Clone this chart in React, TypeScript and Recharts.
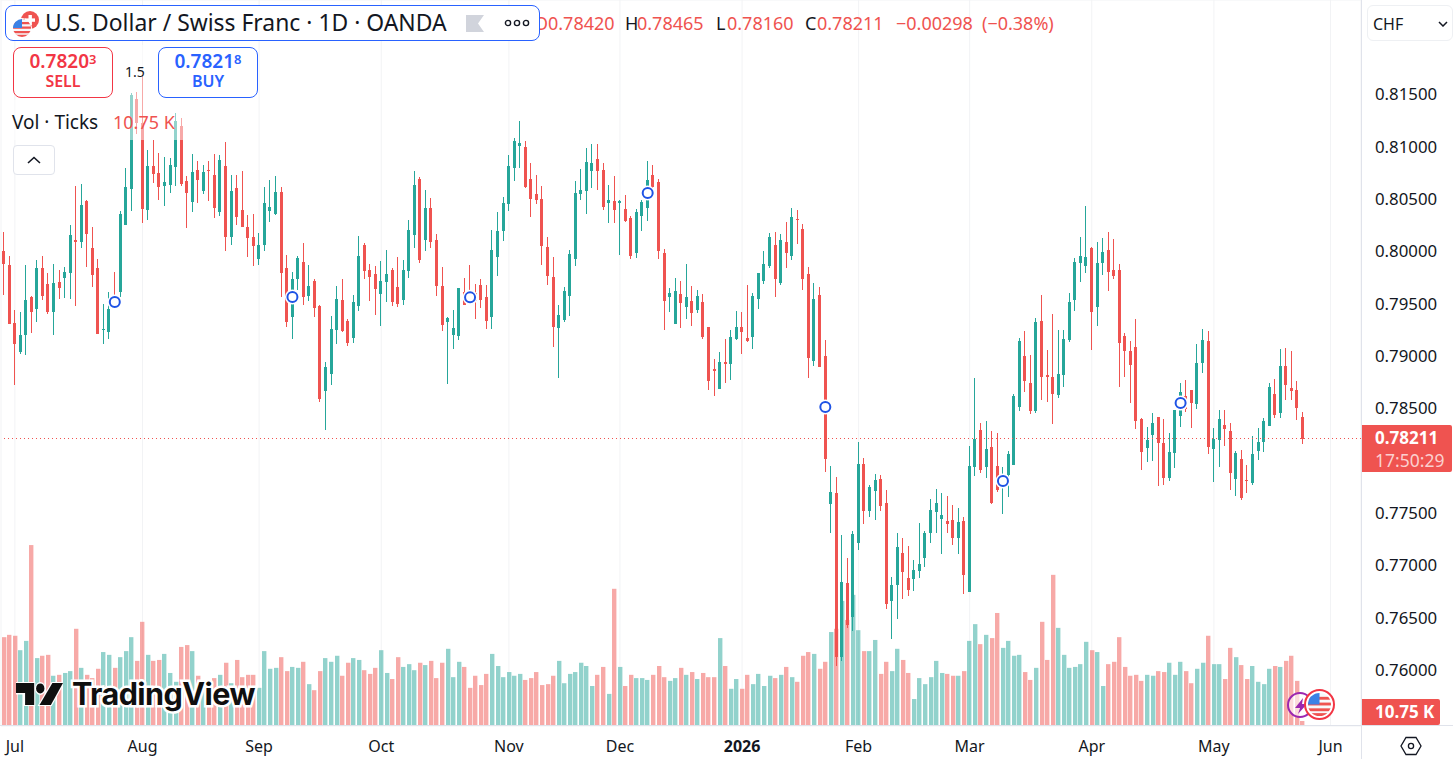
import {
  Bar,
  CartesianGrid,
  ComposedChart,
  ReferenceDot,
  ReferenceLine,
  XAxis,
  YAxis,
} from "recharts";

const UP = "#26a69a";
const DOWN = "#ef5350";
const TEXT = "#131722";
const FONT = "'Noto Sans', sans-serif";

// prices in 1/100000 CHF, one entry per daily candle
const opens = [
  80000,79869,79312,79034,79200,79563,79449,79840,79687,79420,
  79706,79745,79793,80108,80089,80480,80031,79840,79248,79229,
  79550,79611,80251,80595,81452,81223,80394,80815,80748,80624,
  80633,80805,81197,80672,80471,80777,80576,80777,80729,80375,
  80815,80136,80605,80394,80232,80136,79926,80060,80385,80356,
  80566,79840,79372,79735,79898,79573,79716,79477,78665,78827,
  79248,79535,79334,79172,79477,80060,79821,79783,79592,79707,
  79821,79659,79535,79812,80156,80691,80108,80414,80108,79668,
  79324,79200,79191,79614,79582,79598,79678,79563,79372,79945,
  80194,80452,80796,81006,80996,80691,80547,80500,80041,79754,
  79267,79343,79573,79926,80547,80576,80767,80882,80777,80461,
  80480,80461,80404,80318,79984,80337,80414,80729,80662,79988,
  79567,79309,79596,79472,79529,79443,79519,79281,78879,78688,
  78946,78927,79166,79281,79175,79185,79548,79720,79863,80064,
  79701,80093,79959,80312,80217,79787,78956,79586,79003,77589,
  77694,76130,76834,76510,77217,77971,77522,77714,77828,77599,
  76662,76815,77121,76882,76873,76949,77073,77312,77513,77446,
  77427,77436,77264,77427,76748,77943,78296,77943,78134,77952,
  77739,77866,77962,78516,79003,78745,78478,79338,78822,78803,
  78631,78822,79156,79539,79892,79863,80035,79472,79892,80016,
  79825,79825,79195,79051,79089,78401,78124,78249,78421,78172,
  77838,78077,78430,78615,78679,78545,78937,79147,78115,78201,
  78344,78287,77828,78019,77819,77790,78096,78182,78335,78640,
  78459,78908,78698,78679,78420,
];
const highs = [
  80181,79955,79439,79417,79869,79573,79917,79955,79793,79879,
  79821,79850,80251,80624,80643,80490,80232,79926,79496,79611,
  79802,80385,80796,81509,81525,81684,80968,81063,80939,80901,
  80891,81318,81273,80719,80929,80863,80824,80863,80929,80920,
  81044,80729,80729,80767,80347,80356,80175,80614,80681,80719,
  80614,79964,79802,79955,80079,79869,79735,79487,78942,79382,
  79668,79735,79353,79582,80146,80079,79879,79859,79907,80012,
  79840,79945,79917,80299,80767,80710,80586,80509,80165,79850,
  79372,79439,79649,79745,79869,79687,79735,79678,80203,80375,
  80519,80920,81082,81245,81054,80844,80729,80624,80137,79945,
  79487,79659,80012,80672,80786,80987,81025,81025,80844,80633,
  80719,80490,80538,80337,80404,80490,80863,80824,80691,80026,
  79653,79749,79720,79882,79672,79634,79596,79281,78975,79042,
  79166,79252,79433,79424,79682,79605,79797,80007,80179,80188,
  80169,80284,80418,80398,80265,79854,79701,79663,79156,77952,
  77847,77293,77073,77331,78182,78029,77771,77876,77866,77723,
  76892,77312,77264,77188,77054,77408,77331,77637,77733,77694,
  77666,77580,77551,77465,78143,78793,78363,78382,78287,78268,
  77943,78096,78640,79175,79242,79013,79367,79586,79061,79405,
  79252,79252,79605,79940,80140,80437,80045,80093,80131,80188,
  80121,79882,79223,79147,79357,78411,78325,78459,78421,78401,
  78268,78487,78745,78774,78679,79118,79261,79242,78315,78487,
  78487,78363,78096,78105,77962,78239,78315,78411,78745,78784,
  79070,79080,79051,78765,78465,
];
const lows = [
  79582,79305,78723,79018,79009,79216,79325,79534,79401,79200,
  79544,79553,79544,79477,80031,79850,79659,79210,79115,79162,
  79471,79566,80251,80385,81127,80270,80299,80652,80490,80433,
  80557,80617,80624,80222,80375,80461,80547,80480,80318,80337,
  80003,80060,80251,80232,79945,79859,79869,80003,80280,80347,
  79563,79277,79162,79630,79487,79525,79372,78560,78292,78723,
  79115,79229,79095,79124,79429,79735,79525,79391,79286,79515,
  79477,79468,79487,79745,80031,79888,80003,80031,79573,79238,
  78732,79066,79152,79487,79519,79353,79458,79257,79257,79764,
  80098,80385,80672,80796,80605,80328,80452,79869,79678,79085,
  78789,79324,79382,79859,80490,80356,80605,80586,80395,80270,
  80270,79965,80280,79926,79936,80194,80289,80605,79926,79252,
  79424,79309,79271,79357,79290,79414,79166,78679,78621,78688,
  78745,78774,79156,79023,79137,79070,79453,79691,79844,79567,
  79682,79844,79921,80074,79634,78793,78908,78898,77895,77312,
  76040,76090,76404,76376,77150,77398,77465,77436,77522,76586,
  76299,76490,76682,76710,76758,76882,76987,77217,77312,77112,
  77312,77198,77112,76729,76748,77857,77885,77838,77589,77707,
  77494,77656,77962,78478,78659,78449,78459,78583,78564,78354,
  78602,78707,79137,79433,79711,79797,79061,79290,79777,79624,
  79739,78707,78803,78554,78306,77914,77991,78000,77761,77771,
  77809,77933,78325,78468,78315,78497,78841,78067,77800,77943,
  78143,77723,77666,77628,77694,77771,78010,78086,78335,78411,
  78411,78583,78583,78392,78160,
];
const closes = [
  79879,79305,79115,79200,79534,79420,79840,79573,79420,79697,
  79649,79802,80156,80089,80442,80165,79773,79210,79257,79449,
  79471,80356,80614,81493,81223,80404,80815,80738,80614,80662,
  80824,81245,80643,80557,80757,80681,80757,80767,80414,80872,
  80136,80576,80328,80232,80127,80050,80060,80461,80423,80566,
  79793,79325,79735,79936,79563,79668,79458,78589,78894,79257,
  79544,79238,79124,79515,79955,79812,79754,79640,79716,79783,
  79515,79496,79821,80203,80633,79917,80414,80089,79668,79296,
  79363,79267,79649,79493,79528,79519,79535,79334,80012,80194,
  80461,80815,81054,81035,80614,80500,80490,80051,79764,79277,
  79391,79621,79974,80557,80586,80853,80844,80767,80423,80490,
  80395,80480,80289,79955,80375,80471,80681,80614,80003,79529,
  79605,79624,79510,79567,79414,79577,79185,78765,78860,78946,
  78927,79185,79281,79233,79147,79577,79797,79882,80140,79739,
  80112,79988,80332,80303,79739,78984,79548,78898,78019,77704,
  76130,76844,76433,77303,77971,77522,77752,77819,77570,76634,
  76815,77178,76940,76768,76959,77016,77312,77532,77599,77484,
  77398,77264,77417,76911,77952,78210,77914,78115,77599,77723,
  77866,78067,78621,79147,78765,78478,79328,78803,78803,78640,
  78831,79166,79519,79902,79959,79949,79424,79892,79997,79806,
  79768,79128,79051,78917,78382,78086,78201,78363,78172,77838,
  78086,78487,78659,78487,78554,78937,79156,78134,78210,78401,
  78306,77885,78077,77647,77809,78067,78182,78382,78707,78440,
  78908,78726,78669,78507,78211,
];
// tick volume in thousands
const volumes = [
  191,196,194,163,183,389,146,151,153,108,
  110,114,118,209,125,110,103,123,159,153,
  125,148,161,191,140,224,153,140,142,155,
  114,95,170,174,161,108,97,93,103,110,
  136,92,142,105,110,110,82,161,123,125,
  148,118,127,125,138,90,77,118,146,138,
  151,108,136,146,142,120,112,125,163,114,
  101,148,127,133,120,136,131,140,103,136,
  166,105,138,127,82,108,88,112,155,129,
  105,116,108,112,99,103,116,88,90,108,
  140,92,112,116,136,129,86,110,127,69,
  295,127,86,110,103,103,99,110,129,105,
  97,103,125,110,116,101,114,105,105,189,
  129,80,101,80,110,90,112,86,108,103,
  110,127,105,95,151,159,155,123,138,202,
  209,269,228,282,206,161,161,185,112,138,
  118,166,142,114,58,103,90,105,140,114,
  112,108,108,118,183,219,176,196,189,243,
  168,183,151,153,116,99,125,224,142,325,
  211,153,125,127,133,181,163,159,86,133,
  138,191,127,108,110,97,110,108,118,116,
  136,110,138,118,92,123,136,194,133,133,
  101,168,148,131,101,129,95,90,123,129,
  127,140,151,97,10.75,
];

const slotCount = 245;
const priceTicks = [0.76, 0.765, 0.77, 0.775, 0.78, 0.785, 0.79, 0.795, 0.8, 0.805, 0.81, 0.815];
const tickSlots = [2, 25, 46, 68, 91, 111, 133, 154, 174, 196, 218, 239];
const tickLabels = ["Jul", "Aug", "Sep", "Oct", "Nov", "Dec", "2026", "Feb", "Mar", "Apr", "May", "Jun"];
const markerSlots = [20, 52, 84, 116, 148, 180, 212];
const markerPrices = [0.79516, 0.79564, 0.79561, 0.80558, 0.78513, 0.77806, 0.78551];
const lastPrice = 0.78211;

const rows = Array.from({ length: slotCount }, (_, i) =>
  i < opens.length
    ? {
        slot: i,
        open: opens[i] / 100000,
        high: highs[i] / 100000,
        low: lows[i] / 100000,
        close: closes[i] / 100000,
        range: [lows[i] / 100000, highs[i] / 100000],
        volume: volumes[i],
      }
    : { slot: i }
);

function Candle(props: any) {
  const { x, y, width, height, payload } = props;
  if (payload.open == null) return null;
  const top = Math.min(y, y + height);
  const h = Math.abs(height);
  const perPrice = h / (payload.high - payload.low);
  const cx = Math.floor(x + width / 2);
  const bodyTop = top + (payload.high - Math.max(payload.open, payload.close)) * perPrice;
  const bodyBottom = top + (payload.high - Math.min(payload.open, payload.close)) * perPrice;
  const color = payload.close < payload.open ? DOWN : UP;
  return (
    <g>
      <rect x={cx} y={Math.round(top)} width={1} height={Math.max(1, Math.round(h))} fill={color} />
      <rect
        x={cx - 1}
        y={Math.round(bodyTop)}
        width={3}
        height={Math.max(1, Math.round(bodyBottom - bodyTop))}
        fill={color}
      />
    </g>
  );
}

function VolumeBar(props: any) {
  const { x, y, width, height, payload } = props;
  if (payload.open == null) return null;
  const color = payload.close < payload.open ? DOWN : UP;
  return (
    <rect
      x={Math.floor(x + width / 2) - 2}
      y={y}
      width={4.4}
      height={height}
      fill={color}
      fillOpacity={0.5}
    />
  );
}

function DateTick(props: any) {
  const { x, y, payload } = props;
  const label = tickLabels[tickSlots.indexOf(Number(payload.value))];
  return (
    <text
      x={x}
      y={y + 18}
      textAnchor="middle"
      fontFamily={FONT}
      fontSize={16}
      fontWeight={label === "2026" ? 700 : 400}
      fill={TEXT}
    >
      {label}
    </text>
  );
}

function UsFlag({ size }: { size: number }) {
  return (
    <svg width={size} height={size} viewBox="0 0 24 24" style={{ display: "block" }}>
      <defs>
        <clipPath id={"fl" + size}>
          <circle cx="12" cy="12" r="12" />
        </clipPath>
      </defs>
      <g clipPath={"url(#fl" + size + ")"}>
        <rect width="24" height="24" fill="#f7f8fa" />
        <rect y="4" width="24" height="3" fill="#ef5350" />
        <rect y="10" width="24" height="3" fill="#ef5350" />
        <rect y="16" width="24" height="3" fill="#ef5350" />
        <rect y="21" width="24" height="3" fill="#ef5350" />
        <rect width="12" height="12" fill="#3b82e6" />
      </g>
    </svg>
  );
}

const abs = (left: number, top: number, extra: any = {}): any => ({
  position: "absolute",
  left,
  top,
  whiteSpace: "nowrap",
  ...extra,
});

function Quote({ left, top, value, small, label, color }: any) {
  return (
    <div
      style={abs(left, top, {
        width: 98,
        height: 49,
        border: `1px solid ${color}`,
        borderRadius: 8,
        background: "#fff",
        color,
        textAlign: "center",
        fontWeight: 600,
      })}
    >
      <div style={{ fontSize: 19, height: 20, lineHeight: "20px", marginTop: 3 }}>
        {value}
        <span style={{ fontSize: 13, lineHeight: 0, verticalAlign: 4 }}>{small}</span>
      </div>
      <div style={{ fontSize: 16, height: 20, lineHeight: "20px" }}>{label}</div>
    </div>
  );
}

function Overlay() {
  const red = "#ef5350";
  const ohlc: [number, string, string][] = [
    [534, "O", red],
    [548, "0.78420", red],
    [625, "H", TEXT],
    [637, "0.78465", red],
    [716, "L", TEXT],
    [727, "0.78160", red],
    [805, "C", TEXT],
    [817, "0.78211", red],
    [896, "−0.00298", red],
    [982, "(−0.38%)", red],
  ];
  return (
    <div style={abs(0, 0, { width: 1453, height: 759, fontFamily: FONT, color: TEXT })}>
      {/* legend veil over the candles */}
      <div style={abs(8, 100, { width: 178, height: 40, background: "rgba(255,255,255,0.5)" })} />
      <div style={abs(113, 45, { width: 45, height: 55, background: "rgba(255,255,255,0.5)" })} />

      {ohlc.map(([left, text, color]) => (
        <div key={left} style={abs(left, 10, { fontSize: 18, lineHeight: "26px", color })}>
          {text}
        </div>
      ))}

      <div
        style={abs(5, 5, {
          width: 533,
          height: 34,
          border: "1px solid #2962ff",
          borderRadius: 8,
          background: "#fff",
        })}
      />
      <svg width={36} height={32} viewBox="0 0 36 32" style={abs(11, 9)}>
        <circle cx="19" cy="11" r="9" fill="#ef5350" />
        <rect x="17.5" y="6" width="3.4" height="10" fill="#fff" />
        <rect x="14" y="9.4" width="10" height="3.4" fill="#fff" />
      </svg>
      <div style={abs(12, 18, { borderRadius: 10, border: "1px solid #fff" })}>
        <UsFlag size={18} />
      </div>
      <div style={abs(45, 6, { fontSize: 22.9, lineHeight: "34px" })}>
        U.S. Dollar / Swiss Franc · 1D · OANDA
      </div>
      <svg width={18} height={17} style={abs(466, 15)}>
        <path d="M0 0H18L12 8.5L18 17H0Z" fill="#d1d4dc" />
      </svg>
      <svg width={26} height={8} style={abs(504, 19)}>
        <circle cx="4" cy="4" r="2.6" fill="none" stroke={TEXT} strokeWidth="1.4" />
        <circle cx="13" cy="4" r="2.6" fill="none" stroke={TEXT} strokeWidth="1.4" />
        <circle cx="22" cy="4" r="2.6" fill="none" stroke={TEXT} strokeWidth="1.4" />
      </svg>

      <Quote left={13} top={47} value="0.7820" small="3" label="SELL" color="#f23645" />
      <Quote left={158} top={47} value="0.7821" small="8" label="BUY" color="#2962ff" />
      <div style={abs(125, 63, { fontSize: 14, lineHeight: "18px" })}>1.5</div>

      <div style={abs(12, 110, { fontSize: 19, lineHeight: "24px" })}>Vol · Ticks</div>
      <div style={abs(113, 110, { fontSize: 18, lineHeight: "24px", color: red })}>10.75 K</div>
      <div
        style={abs(13, 145, {
          width: 40,
          height: 28,
          border: "1px solid #e0e3eb",
          borderRadius: 4,
          background: "#fff",
        })}
      />
      <svg width={14} height={8} style={abs(27, 156)}>
        <path d="M1 7L7 1.5L13 7" fill="none" stroke={TEXT} strokeWidth="1.6" />
      </svg>

      {/* pane borders */}
      <div style={abs(1361, 0, { width: 1, height: 759, background: "#e0e3eb" })} />
      <div style={abs(0, 725, { width: 1453, height: 1, background: "#e0e3eb" })} />

      <div
        style={abs(1367, 5, {
          width: 86,
          height: 36,
          border: "1px solid #eef0f3",
          borderRadius: 6,
          fontSize: 16,
          lineHeight: "36px",
          textIndent: 5,
          boxSizing: "border-box",
        })}
      >
        CHF
      </div>
      <svg width={10} height={6} style={abs(1438, 21)}>
        <path d="M1 1L5 5L9 1" fill="none" stroke={TEXT} strokeWidth="1.5" />
      </svg>

      <div style={abs(1362, 425, { width: 90, height: 47, background: red, borderRadius: "0 2px 2px 0" })}>
        <div style={abs(13, 2, { fontSize: 17, lineHeight: "22px", color: "#fff", fontWeight: 700 })}>0.78211</div>
        <div style={abs(13, 24, { fontSize: 17.5, lineHeight: "22px", color: "#fbd0cf" })}>17:50:29</div>
      </div>
      <div style={abs(1362, 699, { width: 78, height: 26, background: red, borderRadius: "0 2px 2px 0" })}>
        <div style={abs(13, 2, { fontSize: 17, lineHeight: "22px", color: "#fff", fontWeight: 700 })}>10.75 K</div>
      </div>
      <svg width={22} height={20} viewBox="0 0 22 20" style={abs(1400, 736)}>
        <path d="M6 1.5H16L21 10L16 18.5H6L1 10Z" fill="none" stroke={TEXT} strokeWidth="1.3" />
        <circle cx="11" cy="10" r="2.6" fill="none" stroke={TEXT} strokeWidth="1.3" />
      </svg>

      {/* logo */}
      <svg width={47} height={24} viewBox="0 0 62 26" preserveAspectRatio="none" style={abs(16, 682)}>
        <g stroke="#fff" strokeWidth="3" paintOrder="stroke">
          <path d="M0 1H24V25H12V12H0Z" fill="#0f0f0f" />
          <circle cx="32" cy="7" r="5.5" fill="#0f0f0f" />
          <path d="M48 1H62L46 25H31Z" fill="#0f0f0f" />
        </g>
      </svg>
      <div
        style={abs(72, 676, {
          fontFamily: "Inter, sans-serif",
          fontSize: 30.6,
          lineHeight: "36px",
          fontWeight: 700,
          letterSpacing: -0.6,
          color: "#0f0f0f",
          WebkitTextStroke: "5px #fff",
          paintOrder: "stroke fill",
        })}
      >
        TradingView
      </div>

      {/* news and event badges */}
      <div style={abs(1287, 692, { width: 26, height: 26, borderRadius: 15, border: "2px solid #9c27b0", boxSizing: "border-box", background: "rgba(255,255,255,0.6)" })} />
      <svg width={12} height={16} style={abs(1295, 698)}>
        <path d="M8 0L0 10H5L3 16L12 6H7Z" fill="#9c27b0" />
      </svg>
      <div style={abs(1304, 689, { width: 31, height: 31, borderRadius: 16, border: "2px solid #f23645", boxSizing: "border-box", background: "#fff", padding: 2 })}>
        <UsFlag size={23} />
      </div>
    </div>
  );
}

export default function App() {
  return (
    <div style={abs(0, 0, { width: 1453, height: 759, background: "#fff", overflow: "hidden" })}>
      <ComposedChart
        width={1453}
        height={759}
        data={rows}
        barCategoryGap={0}
        margin={{ top: 0, right: 0, bottom: 0, left: 1 }}
      >
        <CartesianGrid stroke="#f2f3f5" />
        <XAxis
          dataKey="slot"
          ticks={tickSlots}
          interval={0}
          height={33}
          axisLine={false}
          tickLine={false}
          tick={<DateTick />}
        />
        <XAxis xAxisId="volumeSlots" dataKey="slot" hide />
        <YAxis
          yAxisId="price"
          orientation="right"
          width={92}
          domain={[0.75466, 0.82402]}
          ticks={priceTicks}
          allowDataOverflow
          axisLine={false}
          tickLine={false}
          tickMargin={8}
          tickFormatter={(v: number) => v.toFixed(5)}
          tick={{ fontSize: 16.8, fontFamily: FONT, fill: TEXT, textAnchor: "start" }}
        />
        <YAxis yAxisId="volume" hide domain={[0, 1561]} allowDataOverflow />
        <Bar
          xAxisId="volumeSlots"
          yAxisId="volume"
          dataKey="volume"
          barSize={4}
          shape={<VolumeBar />}
          isAnimationActive={false}
        />
        <ReferenceLine
          yAxisId="price"
          y={lastPrice}
          stroke={DOWN}
          strokeDasharray="1 3"
          shapeRendering="crispEdges"
        />
        <Bar yAxisId="price" dataKey="range" barSize={3} shape={<Candle />} isAnimationActive={false} />
        {markerSlots.map((slot, i) => (
          <ReferenceDot key={"halo" + slot} yAxisId="price" x={slot} y={markerPrices[i]} r={7.5} fill="#fff" stroke="none" />
        ))}
        {markerSlots.map((slot, i) => (
          <ReferenceDot
            key={slot}
            yAxisId="price"
            x={slot}
            y={markerPrices[i]}
            r={5}
            fill="#fff"
            stroke="#1e53e5"
            strokeWidth={2}
          />
        ))}
      </ComposedChart>
      <Overlay />
    </div>
  );
}
